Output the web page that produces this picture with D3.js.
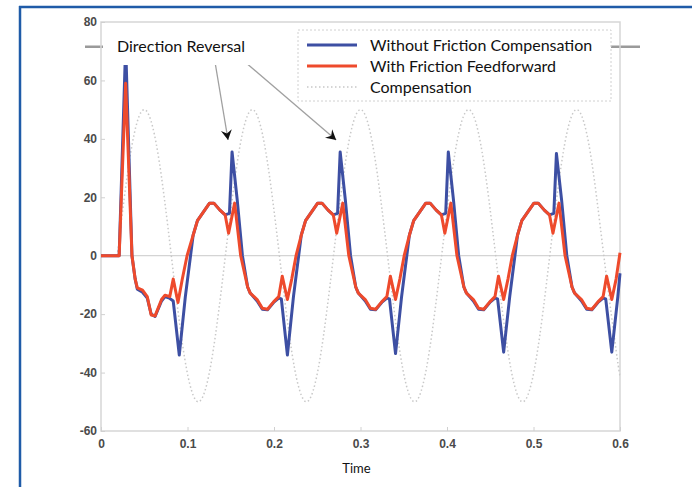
<!DOCTYPE html>
<html><head><meta charset="utf-8">
<script src="https://cdn.jsdelivr.net/npm/d3@7"></script>
<style>html,body{margin:0;padding:0;background:#fff;}svg{display:block;}</style>
</head><body>
<svg id="chart" width="692" height="487"></svg>
<script>
// ---- data ----
const xTicks = [0, 0.1, 0.2, 0.3, 0.4, 0.5, 0.6];
const yTicks = [-60, -40, -20, 0, 20, 40, 60, 80];
const xLabel = "Time";
const seriesNames = ["Without Friction Compensation", "With Friction Feedforward", "Compensation"];
const annotationText = "Direction Reversal";
const annotationTargets = [[0.1515, 35.5], [0.2765, 35.5]];
const referenceLevel = 71.5;

const blueSeries = [
 [0,0],[0.021,0],[0.0285,72],[0.0358,0],[0.0395,-8],[0.042,-11.5],[0.048,-12.5],[0.0535,-14.5],[0.058,-20],[0.0625,-20.8],[0.070,-15.5],[0.074,-14],[0.079,-14.5],[0.0835,-15.5],
 [0.0905,-34],[0.0975,-14],[0.1035,0],[0.1065,7],[0.1115,12],[0.1175,14.6],[0.1255,18],[0.1305,18],[0.1375,15.6],[0.1435,14],[0.1485,14.5],[0.1515,35.5],[0.1575,19],[0.1635,0],
 [0.1695,-10.7],[0.1725,-12.8],[0.1805,-15.5],[0.1865,-18.3],[0.1925,-18.5],[0.1995,-16],[0.2055,-14.5],[0.2085,-14.8],[0.2155,-34],[0.2225,-14],[0.2285,0],[0.2315,7],[0.2365,12],[0.2425,14.6],[0.2505,18],[0.2555,18],[0.2625,15.6],[0.2685,14],[0.2735,14.5],[0.2765,35.5],[0.2825,19],[0.2885,0],
 [0.2945,-10.7],[0.2975,-12.8],[0.3055,-15.5],[0.3115,-18.3],[0.3175,-18.5],[0.3245,-16],[0.3305,-14.5],[0.3335,-14.8],[0.3405,-33.5],[0.3475,-14],[0.3535,0],[0.3565,7],[0.3615,12],[0.3675,14.6],[0.3755,18],[0.3805,18],[0.3875,15.6],[0.3935,14],[0.3985,14.5],[0.4015,35.5],[0.4075,19],[0.4135,0],
 [0.4195,-10.7],[0.4225,-12.8],[0.4305,-15.5],[0.4365,-18.3],[0.4425,-18.5],[0.4495,-16],[0.4555,-14.5],[0.4585,-14.8],[0.4655,-33],[0.4725,-14],[0.4785,0],[0.4815,7],[0.4865,12],[0.4925,14.6],[0.5005,18],[0.5055,18],[0.5125,15.6],[0.5185,14],[0.5235,14.5],[0.5265,35],[0.5325,19],[0.5385,0],
 [0.5445,-10.7],[0.5475,-12.8],[0.5555,-15.5],[0.5615,-18.3],[0.5675,-18.5],[0.5745,-16],[0.5805,-14.5],[0.5835,-14.8],[0.5905,-33],[0.5975,-14],[0.600,-6]
];

const redSeries = [
 [0,0],[0.021,0],[0.0285,59],[0.0358,0],[0.0395,-8],[0.042,-11],[0.048,-11.8],[0.0535,-14],[0.058,-20.3],[0.0625,-20.6],[0.070,-15],[0.074,-13.5],[0.0795,-14],[0.0835,-8],[0.089,-16],[0.094,-8],[0.0995,0],
 [0.1065,7],[0.1115,12],[0.1175,14.6],[0.1255,18],[0.1305,18],[0.1375,15.6],[0.1435,14],[0.1475,7.7],[0.1545,18],[0.1615,0],
 [0.1695,-10.7],[0.1725,-12.8],[0.1805,-15],[0.1865,-18],[0.1925,-18.3],[0.1995,-15.8],[0.2055,-14],[0.2095,-7],[0.2155,-15],[0.2205,-8],[0.2255,0],[0.2315,7],[0.2365,12],[0.2425,14.6],[0.2505,18],[0.2555,18],[0.2625,15.6],[0.2685,14],[0.2725,7.7],[0.2795,18],[0.2865,0],
 [0.2945,-10.7],[0.2975,-12.8],[0.3055,-15],[0.3115,-18],[0.3175,-18.3],[0.3245,-15.8],[0.3305,-14],[0.3345,-7],[0.3405,-15],[0.3455,-8],[0.3505,0],[0.3565,7],[0.3615,12],[0.3675,14.6],[0.3755,18],[0.3805,18],[0.3875,15.6],[0.3935,14],[0.3975,7.7],[0.4045,18],[0.4115,0],
 [0.4195,-10.7],[0.4225,-12.8],[0.4305,-15],[0.4365,-18],[0.4425,-18.3],[0.4495,-15.8],[0.4555,-14],[0.4595,-7],[0.4655,-15],[0.4705,-8],[0.4755,0],[0.4815,7],[0.4865,12],[0.4925,14.6],[0.5005,18],[0.5055,18],[0.5125,15.6],[0.5185,14],[0.5225,7.7],[0.5295,18],[0.5365,0],
 [0.5445,-10.7],[0.5475,-12.8],[0.5555,-15],[0.5615,-18],[0.5675,-18.3],[0.5745,-15.8],[0.5805,-14],[0.5845,-7],[0.5905,-15],[0.5955,-8],[0.600,1]
];

const referenceSeries = [
 [0.0188,0],[0.0344,35.4],[0.0500,50],[0.0656,35.4],[0.0813,0],[0.0969,-35.4],[0.1125,-50],[0.1281,-35.4],
 [0.1438,0],[0.1594,35.4],[0.1750,50],[0.1906,35.4],[0.2063,0],[0.2219,-35.4],[0.2375,-50],[0.2531,-35.4],
 [0.2688,0],[0.2844,35.4],[0.3000,50],[0.3156,35.4],[0.3313,0],[0.3469,-35.4],[0.3625,-50],[0.3781,-35.4],
 [0.3938,0],[0.4094,35.4],[0.4250,50],[0.4406,35.4],[0.4563,0],[0.4719,-35.4],[0.4875,-50],[0.5031,-35.4],
 [0.5188,0],[0.5344,35.4],[0.5500,50],[0.5656,35.4],[0.5813,0],[0.5969,-35.4],[0.6,-40]
];

// ---- drawing ----
const svg = d3.select("#chart");
const W = 692, H = 487;
const plot = {left: 101, right: 620, top: 22, bottom: 431};
const x = d3.scaleLinear().domain([0, 0.6]).range([plot.left, plot.right]);
const y = d3.scaleLinear().domain([-60, 80]).range([plot.bottom, plot.top]);

svg.append("rect").attr("width", W).attr("height", H).attr("fill", "#fff");

// reference line beyond axes
svg.append("line").attr("x1", 85).attr("x2", 640)
  .attr("y1", y(referenceLevel)).attr("y2", y(referenceLevel))
  .attr("stroke", "#9a9a9a").attr("stroke-width", 2.5);

// axes box
svg.append("rect").attr("x", plot.left).attr("y", plot.top)
  .attr("width", plot.right - plot.left).attr("height", plot.bottom - plot.top)
  .attr("fill", "none").attr("stroke", "#d6d6d6").attr("stroke-width", 1.5);

// zero line
svg.append("line").attr("x1", plot.left).attr("x2", plot.right)
  .attr("y1", y(0)).attr("y2", y(0)).attr("stroke", "#c9c9c9").attr("stroke-width", 1);

// axes
const xAxis = d3.axisBottom(x).tickValues(xTicks).tickFormat(d => d === 0 ? "0" : d.toFixed(1)).tickSizeInner(-4).tickSizeOuter(0).tickPadding(8);
const yAxis = d3.axisLeft(y).tickValues(yTicks).tickFormat(d => String(d)).tickSizeInner(-4).tickSizeOuter(0).tickPadding(4);
const gx = svg.append("g").attr("transform", `translate(0,${plot.bottom})`).call(xAxis);
const gy = svg.append("g").attr("transform", `translate(${plot.left},0)`).call(yAxis);
[gx, gy].forEach(g => {
  g.select(".domain").remove();
  g.selectAll(".tick line").attr("stroke", "#d0d0d0");
  g.selectAll(".tick text").attr("font-family", "'Liberation Sans', Arial, sans-serif")
    .attr("font-size", 12).attr("font-weight", "bold").attr("fill", "#4a4a4a");
});

// series
const line = d3.line().x(d => x(d[0])).y(d => y(d[1]));
const sineLine = d3.line().x(d => x(d[0])).y(d => y(d[1])).curve(d3.curveNatural);
svg.append("path").datum(referenceSeries).attr("d", sineLine)
  .attr("fill", "none").attr("stroke", "#c8c8c8").attr("stroke-width", 1.5).attr("stroke-dasharray", "1.5,2.5");
svg.append("path").datum(blueSeries).attr("d", line)
  .attr("fill", "none").attr("stroke", "#3d4fa3").attr("stroke-width", 3).attr("stroke-linejoin", "round");
svg.append("path").datum(redSeries).attr("d", line)
  .attr("fill", "none").attr("stroke", "#ee4a2c").attr("stroke-width", 3).attr("stroke-linejoin", "round");

// annotation arrows
const arrowStarts = [[215, 62], [245, 62]];
annotationTargets.forEach((t, i) => {
  const x0 = arrowStarts[i][0], y0 = arrowStarts[i][1];
  const tx = x(t[0]) - 4, ty = y(t[1]) - 12;
  svg.append("line").attr("x1", x0).attr("y1", y0).attr("x2", tx).attr("y2", ty)
    .attr("stroke", "#a0a0a0").attr("stroke-width", 1.3);
  const ang = Math.atan2(ty - y0, tx - x0) * 180 / Math.PI;
  svg.append("path").attr("d", "M0,0 L-10,-5.5 L-6.5,0 L-10,5.5 Z")
    .attr("transform", `translate(${tx},${ty}) rotate(${ang})`).attr("fill", "#111");
});

// annotation text box
svg.append("rect").attr("x", 103).attr("y", 26).attr("width", 196).attr("height", 39).attr("fill", "#fff");
svg.append("text").attr("x", 117).attr("y", 52).text(annotationText)
  .attr("font-family", "Lato, 'Open Sans', sans-serif").attr("font-size", 16).attr("fill", "#111");

// legend
const lg = svg.append("g");
lg.append("rect").attr("x", 298).attr("y", 30).attr("width", 313).attr("height", 71)
  .attr("fill", "#fff").attr("stroke", "#d0d0d0").attr("stroke-dasharray", "2,2");
const legendRows = [
  {y: 45, color: "#3d4fa3", dash: null, w: 3, text: seriesNames[0]},
  {y: 66, color: "#ee4a2c", dash: null, w: 3, text: seriesNames[1]},
  {y: 87, color: "#c8c8c8", dash: "1.5,2.5", w: 1.5, text: seriesNames[2]}
];
legendRows.forEach(r => {
  lg.append("line").attr("x1", 307).attr("x2", 357).attr("y1", r.y).attr("y2", r.y)
    .attr("stroke", r.color).attr("stroke-width", r.w).attr("stroke-dasharray", r.dash);
  lg.append("text").attr("x", 370).attr("y", r.y + 5.5).text(r.text)
    .attr("font-family", "Lato, 'Open Sans', sans-serif").attr("font-size", 16).attr("fill", "#111");
});

// x label
svg.append("text").attr("x", (plot.left + plot.right) / 2 - 4).attr("y", 473).attr("text-anchor", "middle")
  .text(xLabel).attr("font-family", "Lato, 'Open Sans', sans-serif").attr("font-size", 13).attr("fill", "#111");

// frame
svg.append("line").attr("x1", 20).attr("x2", 20).attr("y1", 6).attr("y2", H).attr("stroke", "#1f5ba8").attr("stroke-width", 2.5);
svg.append("line").attr("x1", 19).attr("x2", W).attr("y1", 7).attr("y2", 7).attr("stroke", "#1f5ba8").attr("stroke-width", 2.5);
</script>
</body></html>
